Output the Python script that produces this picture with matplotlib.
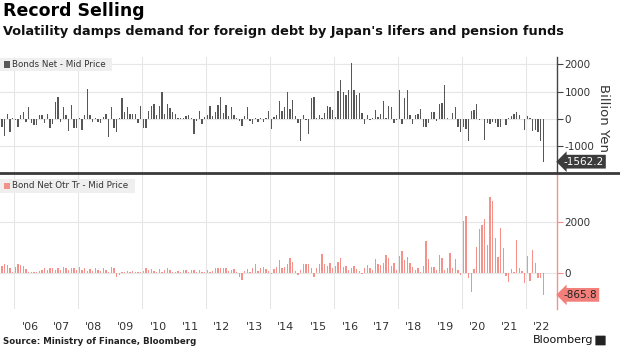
import matplotlib
matplotlib.use("Agg")
import matplotlib.pyplot as plt
import numpy as np
import pandas as pd
from matplotlib.patches import Rectangle, FancyBboxPatch
from matplotlib.lines import Line2D
import matplotlib.transforms as mtransforms

# ---------------- data (monthly, Jul 2005 .. Jul 2022, billion yen) ----------------
start_month = "2005-07"

bonds_net_a = [720, -280, -620, 170, -460, 50, -20, -280, 150, 270,
               -100, 450, -160, -220, -220, 150, 150, -160, 180, -340,
               -180, 610, 790, -100, 430, 150, -430, 510, -340, -340,
               20, -400, 150, 1090, 150, -100, 30, -100, -160, 80,
               200, -650, 450, -340, -460, 20, 760, 270, 450, 180,
               180, 180, -160, 480, -340, -340, 300, 480, 550, 150,
               480, 1000, 200, 550, 390, 270, 200, 40, 30, 30]
bonds_net_b = [100, 130, 20, -550, -85, 280, -200, 60, 130, 460,
               100, 250, 520, 800, 220, 500, 100, 430, 130, 20,
               -85, -240, 100, 450, -85, -180, 20, -120, 20, -120,
               40, 300, -350, 60, 130, 650, 280, 430, 990, 380,
               710, 100, -150, -790, 130, -30, -550, 770, 790, 20,
               130, 20, 220, 490, 430, 340, 60, 1010, 1410, 990,
               870, 1060, 2060, 1060, 870, 940, 220, -200, 160]
bonds_net_c = [-50, 50, 330, 85, 200, 670, 20, 480, 430, -160,
               -40, 1060, -200, 760, 1060, 150, -180, 150, 200, 350,
               -280, -280, -160, 260, 260, -60, 540, 570, 1230, 30,
               10, 230, 430, -280, -460, -280, -380, -800, 300, 330,
               540, -40, 10, -770, -160, -180, -110, -160, -280, -280,
               10, -230, 30, 110, 200, 260, 150, 10, -400, 110,
               50, -430, -400, -460, -790, -1562.2]

otr_a = [170, 270, 330, 300, 170, 40, 240, 330, 300, 270,
         140, 40, 15, 40, 15, 65, 120, 200, 120, 200,
         170, 90, 170, 100, 220, 170, 100, 200, 170, 120,
         210, 120, 170, 65, 130, 65, 180, 100, 65, 170,
         120, 40, 210, 170, -160, -70, 40, 15, 65, 15,
         65, 15, 40, 40, 65, 170, 120, 130, 65, 40,
         130, 40, 120, 170, 100, 40, 15, 65, 15, 90]
otr_b = [100, 40, 120, 120, 30, 100, 40, 30, 100, 30,
         60, 170, 200, 170, 200, 170, 60, 120, 140, 30,
         -150, -290, 60, 140, 30, 200, 330, 60, 200, 230,
         140, 60, -60, 160, 230, 500, 200, 230, 330, 560,
         430, 60, -70, 100, 330, 330, 330, 200, -150, 200,
         330, 730, 330, 260, 400, 200, 260, 430, 560, 230,
         260, 100, 200, 260, 160, 60, -60, 200, 300]
otr_c = [170, 100, 520, 340, 290, 390, 680, 560, 260, 370,
         100, 650, 850, 500, 630, 370, 235, 100, 170, 20,
         260, 1250, 520, 235, 235, 100, 690, 560, 100, 170,
         780, 170, 520, 100, -90, 2030, 2240, -220, -750, 160,
         990, 1730, 1880, 2090, 1080, 2980, 2810, 1350, 630, 1760,
         960, -130, -350, 130, 20, 1280, 170, 80, -420, 650,
         -310, 890, 370, -220, -220, -865.8]

bonds_net = np.array(bonds_net_a + bonds_net_b + bonds_net_c, dtype=float)
bond_otr = np.array(otr_a + otr_b + otr_c, dtype=float)

years = list(range(2006, 2023))
year_labels = ["'%02d" % (y % 100) for y in years]
top_ticks = [-1000, 0, 1000, 2000]
bot_ticks = [0, 2000]

months = pd.date_range(start_month, periods=len(bonds_net), freq="MS")
t = months.year + (months.month - 0.5) / 12.0

# ---------------- styling ----------------
W, H = 620, 348
fig = plt.figure(figsize=(W / 100, H / 100), dpi=100)
fig.patch.set_facecolor("white")

def fx(px):
    return px / W

def fy(py):
    return 1 - py / H

TOP_C = "#575757"
BOT_C = "#f4918b"
GRID_C = "#e6e6e6"
XL = (2006 - 14 / 32, 2006 + 543 / 32)

ax1 = fig.add_axes([0, fy(172), fx(557), (172 - 57) / H])
ax2 = fig.add_axes([0, fy(309), fx(557), (309 - 174) / H])

bw = 1.0 / 12 * 0.5
ax1.bar(t, bonds_net, width=bw, color=TOP_C, linewidth=0, zorder=3)
ax2.bar(t, bond_otr, width=bw, color=BOT_C, linewidth=0, zorder=3)

ax1.set_ylim(-1940, 2270)
ax2.set_ylim(-1420, 3870)

for ax, ticks, spc in ((ax1, top_ticks, "#444444"), (ax2, bot_ticks, BOT_C)):
    ax.set_xlim(*XL)
    ax.set_facecolor("white")
    for s in ("left", "top", "bottom"):
        ax.spines[s].set_visible(False)
    ax.spines["right"].set_color(spc)
    ax.spines["right"].set_linewidth(1.0)
    ax.yaxis.tick_right()
    ax.set_yticks(ticks)
    ax.set_yticklabels([str(v) for v in ticks])
    ax.tick_params(axis="y", length=4, width=0.8, color=spc, labelsize=7.5,
                   labelcolor="#333333", pad=1.5)
    ax.set_xticks(list(range(2006, 2023, 2)))
    ax.tick_params(axis="x", length=0, labelbottom=False)
    ax.grid(True, axis="both", color=GRID_C, linewidth=0.8, zorder=0)
    ax.set_axisbelow(True)

# x labels at year centres on bottom axes
trans2 = mtransforms.blended_transform_factory(ax2.transData, fig.transFigure)
for y, lab in zip(years, year_labels):
    fig.text(0, 0, lab, transform=trans2, fontsize=8, color="#333333",
             ha="center", va="center").set_position((y + 0.5, fy(327)))

# Separator line
fig.add_artist(Line2D([0, 1], [fy(173), fy(173)], transform=fig.transFigure,
                      color="#3a3a3a", linewidth=2.0))

# Titles
fig.text(fx(3), fy(11), "Record Selling", fontsize=12.5, fontweight="bold",
         color="#000000", ha="left", va="center")
fig.text(fx(3), fy(31), "Volatility damps demand for foreign debt by Japan's lifers and pension funds",
         fontsize=9.3, fontweight="bold", color="#111111", ha="left", va="center")

# Legends
def legend_box(y0, y1, x1, color, label):
    fig.add_artist(Rectangle((0, fy(y1)), fx(x1), (y1 - y0) / H, transform=fig.transFigure,
                             facecolor="#efefef", edgecolor="none", zorder=5))
    yc = (y0 + y1) / 2
    fig.add_artist(Rectangle((fx(4), fy(yc + 3)), fx(6), 6 / H, transform=fig.transFigure,
                             facecolor=color, edgecolor="none", zorder=6))
    fig.text(fx(12), fy(yc), label, fontsize=6.3, color="#333333",
             ha="left", va="center", zorder=7)

legend_box(58, 71, 112, TOP_C, "Bonds Net - Mid Price")
legend_box(179, 193, 135, BOT_C, "Bond Net Otr Tr - Mid Price")

# Axis unit label
fig.text(fx(603), fy(118), "Billion Yen", rotation=-90, fontsize=9.5, color="#333333",
         ha="center", va="center")

# Last value tags
tr1 = mtransforms.blended_transform_factory(ax1.transAxes, ax1.transData)
ax1.text(1.012, bonds_net[-1], "%.1f" % bonds_net[-1], transform=tr1, fontsize=7.5,
         color="white", ha="left", va="center", clip_on=False,
         bbox=dict(boxstyle="larrow,pad=0.18", facecolor="#3c3c3c", edgecolor="none"))
tr2 = mtransforms.blended_transform_factory(ax2.transAxes, ax2.transData)
ax2.text(1.012, bond_otr[-1], "%.1f" % bond_otr[-1], transform=tr2, fontsize=7.5,
         color="#222222", ha="left", va="center", clip_on=False,
         bbox=dict(boxstyle="larrow,pad=0.18", facecolor="#f27f79", edgecolor="none"))

# Footer
fig.text(fx(3), fy(341), "Source: Ministry of Finance, Bloomberg", fontsize=6.2,
         fontweight="bold", color="#222222", ha="left", va="center")
fig.text(fx(593), fy(340), "Bloomberg", fontsize=8, color="#111111", ha="right", va="center")
fig.add_artist(FancyBboxPatch((fx(596), fy(345)), fx(9), 9 / H, transform=fig.transFigure,
                              boxstyle="round,pad=0.001", facecolor="#222222", edgecolor="none"))

fig.savefig("out.png", dpi=100, facecolor="white")
